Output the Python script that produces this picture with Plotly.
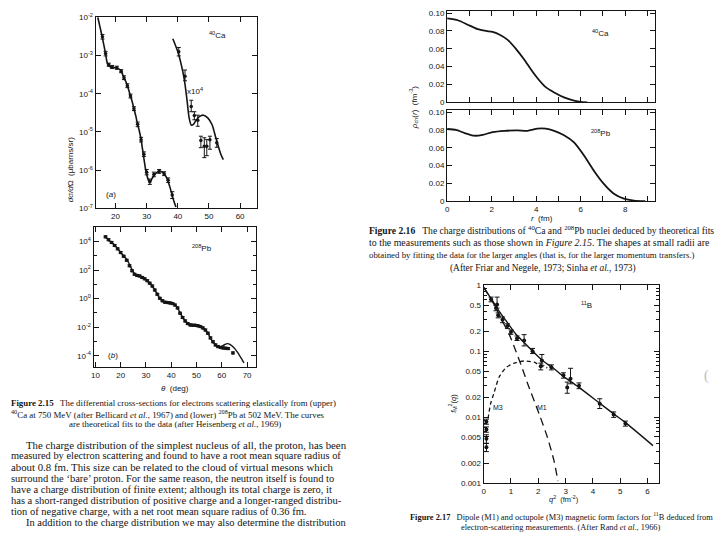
import plotly.graph_objects as go

W, H = 720, 540
INK = "#141414"
SANS = "Liberation Sans, Arial, sans-serif"
SERIF = "Liberation Serif, Times New Roman, serif"

# ---------------- Fig 2.15 (a): 40Ca cross-section (log10 exponents)
ca_fit_x = [14.3, 15.0, 15.7, 16.3, 16.8, 17.2, 17.6, 18.4, 19.2, 20.0, 21.0, 21.6, 22.2, 22.7, 23.3,
            23.8, 24.3, 24.8, 25.4, 25.9, 26.5, 27.0, 27.6, 28.1, 28.5, 28.9, 29.3, 29.7, 30.2,
            30.6, 31.1, 31.7, 32.4, 33.2, 34.0, 34.8, 35.6, 36.3, 36.9, 37.6, 38.3, 38.9, 39.4]
ca_fit_exp = [-2.0, -2.25, -2.51, -2.75, -2.96, -3.15, -3.25, -3.30, -3.31, -3.32, -3.35, -3.38, -3.48,
              -3.58, -3.68, -3.79, -3.92, -4.06, -4.22, -4.39, -4.58, -4.77, -4.96, -5.15, -5.36,
              -5.58, -5.80, -6.0, -6.17, -6.27, -6.31, -6.22, -6.13, -6.06, -6.02, -6.04, -6.09,
              -6.18, -6.30, -6.48, -6.69, -6.85, -6.96]
ca_pts_x = [15.8, 16.8, 17.8, 18.9, 20.4, 21.8, 22.7, 23.8, 24.8, 25.9, 27.1, 28.2, 29.1, 30.0,
            31.0, 32.3, 34.0, 35.6, 36.9, 38.2]
ca_pts_exp = [-2.51, -2.95, -3.24, -3.30, -3.32, -3.41, -3.58, -3.79, -4.06, -4.39, -4.80, -5.20,
              -5.58, -6.05, -6.30, -6.11, -6.03, -6.09, -6.26, -6.65]
ca_pts_err = [0.06, 0.06, 0.04, 0.04, 0.04, 0.04, 0.05, 0.05, 0.05, 0.05, 0.06, 0.06, 0.06, 0.07,
              0.07, 0.06, 0.05, 0.05, 0.06, 0.09]

# x10^4 branch
cax_fit_x = [38.4, 40.0, 41.1, 42.1, 43.0, 43.6, 44.3, 45.0, 45.8, 46.9, 48.2, 49.6, 51.0, 52.2,
             53.8, 54.6]
cax_fit_exp = [-2.56, -2.90, -3.24, -3.64, -4.20, -4.62, -4.82, -4.80, -4.70, -4.60, -4.56, -4.63,
               -4.81, -5.15, -5.58, -5.72]
cax_pts_x = [40.3, 42.3, 44.3, 45.3, 46.4, 47.4, 48.5, 49.3, 50.3, 52.5]
cax_pts_exp = [-2.90, -3.54, -4.33, -4.57, -4.69, -5.22, -5.37, -5.37, -5.20, -5.28]
cax_hi_exp = [-2.79, -3.38, -4.17, -4.47, -4.56, -5.11, -5.15, -5.20, -5.11, -5.17]
cax_lo_exp = [-3.01, -3.66, -4.47, -4.68, -4.85, -5.41, -5.67, -5.62, -5.45, -5.40]

# ---------------- Fig 2.15 (b): 208Pb cross-section
pb_fit_x = [13.8, 15.5, 17.4, 19.0, 20.6, 22.0, 23.0, 24.0, 25.0, 26.0, 27.0, 28.0, 29.2, 30.4, 31.4,
            32.3, 33.3, 34.3, 35.3, 36.3, 37.5, 38.8, 40.1, 41.1, 42.1, 43.0, 44.0, 45.0, 46.0, 47.3,
            48.3, 49.5, 50.7, 51.8, 52.8, 53.8, 54.8, 55.7, 56.7, 57.7, 58.7, 59.6, 60.6, 61.5, 62.3,
            63.2, 64.2, 65.2, 66.1, 67.1, 68.1, 68.8]
pb_fit_exp = [4.36, 4.05, 3.77, 3.46, 3.09, 2.82, 2.56, 2.20, 1.85, 1.66, 1.60, 1.56, 1.42, 1.27, 1.12,
              0.93, 0.66, 0.36, 0.06, -0.14, -0.25, -0.29, -0.32, -0.40, -0.55, -0.82, -1.16, -1.45,
              -1.66, -1.84, -1.86, -1.87, -1.92, -1.98, -2.08, -2.25, -2.52, -2.82, -3.07, -3.27,
              -3.36, -3.36, -3.28, -3.18, -3.15, -3.20, -3.34, -3.52, -3.73, -4.00, -4.30, -4.50]
pb_pts_x = [14.0, 15.2, 16.4, 17.6, 18.8, 20.0, 21.2, 22.4, 23.5, 24.5, 25.5, 26.5, 27.5, 28.5, 29.5,
            30.5, 31.5, 32.5, 33.5, 34.5, 35.5, 36.5, 37.5, 38.5, 39.5, 40.5, 41.5, 42.5, 43.5, 44.5,
            45.5, 46.5, 47.5, 48.5, 49.5, 50.5, 51.5, 52.5, 53.5, 54.5, 55.5, 56.5, 57.5, 58.5, 59.5,
            60.5, 61.5, 62.5, 64.4]
pb_pts_exp = [4.32, 4.12, 3.93, 3.72, 3.48, 3.22, 2.96, 2.68, 2.30, 1.95, 1.70, 1.62, 1.58, 1.48, 1.38,
              1.25, 1.08, 0.88, 0.60, 0.30, 0.02, -0.15, -0.25, -0.28, -0.30, -0.35, -0.45, -0.65,
              -1.02, -1.32, -1.56, -1.75, -1.84, -1.86, -1.87, -1.90, -1.96, -2.05, -2.20, -2.42,
              -2.75, -3.02, -3.24, -3.36, -3.42, -3.45, -3.47, -3.50, -3.80]

# ---------------- Fig 2.16: charge densities (fm^-3)
rho_ca_r = [0.0, 0.48, 0.93, 1.37, 1.75, 2.04, 2.34, 2.72, 3.09, 3.46, 3.76, 4.06, 4.43, 4.81, 5.25,
            5.70, 6.07, 6.30]
rho_ca = [0.094, 0.092, 0.087, 0.082, 0.080, 0.079, 0.076, 0.070, 0.060, 0.048, 0.037, 0.027, 0.017,
          0.011, 0.0055, 0.0018, 0.0003, 0.0]
rho_pb_r = [0.0, 0.40, 0.78, 1.22, 1.60, 2.04, 2.57, 3.16, 3.61, 4.06, 4.43, 4.81, 5.25, 5.70, 6.15,
            6.60, 7.04, 7.49, 7.94, 8.39, 8.90]
rho_pb = [0.081, 0.080, 0.0765, 0.0735, 0.0745, 0.0775, 0.0790, 0.0795, 0.0790, 0.0815, 0.0815, 0.0790,
          0.0740, 0.0660, 0.0513, 0.0340, 0.0194, 0.0084, 0.0029, 0.0007, 0.0]

# ---------------- Fig 2.17: 11B magnetic form factors
b_tot_q2 = [0.0, 0.27, 0.57, 0.87, 1.18, 1.48, 1.79, 2.15, 2.53, 2.94, 3.43, 4.22, 4.76, 5.25, 6.2]
b_tot = [0.93, 0.63, 0.40, 0.27, 0.18, 0.135, 0.10, 0.072, 0.056, 0.041, 0.0295, 0.0166, 0.0112,
         0.0079, 0.0037]
b_m1_q2 = [0.0, 0.39, 0.63, 0.94, 1.18, 1.42, 1.60, 2.03, 2.33, 2.58, 2.72]
b_m1 = [0.93, 0.50, 0.316, 0.178, 0.10, 0.054, 0.033, 0.0112, 0.0050, 0.00214, 0.00107]
b_m3_q2 = [0.16, 0.25, 0.38, 0.57, 0.81, 1.12, 1.48, 1.85, 2.08, 2.33]
b_m3 = [0.0095, 0.0158, 0.0234, 0.041, 0.056, 0.066, 0.071, 0.068, 0.060, 0.056]
b_pts_q2 = [0.27, 0.45, 0.49, 0.53, 0.69, 0.87, 1.0, 1.22, 1.48, 1.79, 2.09, 2.13, 2.48, 2.92, 3.06,
            3.18, 3.49, 4.25, 4.76, 5.19, 0.10, 0.10, 0.10, 0.10]
b_pts = [0.61, 0.45, 0.51, 0.35, 0.30, 0.24, 0.195, 0.156, 0.145, 0.10, 0.059, 0.072, 0.057, 0.043,
         0.028, 0.038, 0.030, 0.016, 0.011, 0.008, 0.0085, 0.0065, 0.0047, 0.0035]
b_hi = [0.66, 0.49, 0.66, 0.38, 0.33, 0.26, 0.21, 0.17, 0.178, 0.11, 0.066, 0.089, 0.062, 0.047,
        0.034, 0.055, 0.033, 0.019, 0.012, 0.0087, 0.0093, 0.0071, 0.0054, 0.0040]
b_lo = [0.56, 0.41, 0.45, 0.32, 0.27, 0.22, 0.18, 0.145, 0.12, 0.092, 0.052, 0.061, 0.052, 0.039,
        0.023, 0.032, 0.027, 0.0135, 0.0099, 0.0073, 0.0078, 0.0059, 0.0040, 0.0030]

fig = go.Figure()


def ex(v):
    return [10 ** e for e in v]


def line(x, y, xa, ya, width=1.5, dash="solid", shape="spline"):
    fig.add_trace(go.Scatter(x=x, y=y, mode="lines", xaxis=xa, yaxis=ya,
                             line=dict(color=INK, width=width, dash=dash, shape=shape,
                                       smoothing=0.6),
                             showlegend=False, hoverinfo="skip"))


def pts(x, y, hi, lo, xa, ya, size=3.5, cap=2):
    fig.add_trace(go.Scatter(
        x=x, y=y, mode="markers", xaxis=xa, yaxis=ya,
        marker=dict(color=INK, size=size),
        error_y=dict(type="data", symmetric=False,
                     array=[h - v for h, v in zip(hi, y)],
                     arrayminus=[v - l for v, l in zip(y, lo)],
                     color=INK, thickness=1, width=cap),
        showlegend=False, hoverinfo="skip"))


# panel a
line(ca_fit_x, ex(ca_fit_exp), "x", "y", 1.6)
cay = ex(ca_pts_exp)
pts(ca_pts_x, cay, [v * 10 ** d for v, d in zip(cay, ca_pts_err)],
    [v / 10 ** d for v, d in zip(cay, ca_pts_err)], "x", "y")
line(cax_fit_x, ex(cax_fit_exp), "x", "y", 1.6)
pts(cax_pts_x, ex(cax_pts_exp), ex(cax_hi_exp), ex(cax_lo_exp), "x", "y")

# panel b
line(pb_fit_x, ex(pb_fit_exp), "x2", "y2", 1.4)
pby = ex(pb_pts_exp)
pts(pb_pts_x, pby, [v * 10 ** 0.07 for v in pby], [v / 10 ** 0.07 for v in pby], "x2", "y2",
    size=3.5, cap=2)

# panels c, d
line(rho_ca_r, rho_ca, "x3", "y3", 1.8)
line(rho_pb_r, rho_pb, "x4", "y4", 1.8)

# panel e
line(b_tot_q2, b_tot, "x5", "y5", 1.4)
line(b_m1_q2, b_m1, "x5", "y5", 1.3, dash="8px,5px")
line(b_m3_q2, b_m3, "x5", "y5", 1.3, dash="4px,3px")
pts(b_pts_q2, b_pts, b_hi, b_lo, "x5", "y5", size=4, cap=2.5)


def axis(dom, rng, tickvals, ticktext=None, typ="linear", labels=True, anchor=None, minor=None):
    d = dict(domain=dom, range=rng, type=typ, anchor=anchor, tickmode="array",
             tickvals=tickvals, ticks="inside", ticklen=5, tickwidth=1, tickcolor=INK,
             showline=True, linecolor=INK, linewidth=1.2, mirror="allticks",
             showgrid=False, zeroline=False, showticklabels=labels,
             tickfont=dict(family=SANS, size=8, color=INK))
    if ticktext is not None:
        d["ticktext"] = ticktext
    if minor is not None:
        d["minor"] = dict(tickmode="array", tickvals=minor, ticks="inside", ticklen=3,
                          tickcolor=INK, tickwidth=1, showgrid=False)
    return d


def fx(p):
    return p / W


def fy(p):
    return 1 - p / H


ca_yt = [1e-2, 1e-3, 1e-4, 1e-5, 1e-6, 1e-7]
ca_yl = ["10<sup>-2</sup>", "10<sup>-3</sup>", "10<sup>-4</sup>", "10<sup>-5</sup>",
         "10<sup>-6</sup>", "10<sup>-7</sup>"]
pb_yt = [1e4, 1e2, 1, 1e-2, 1e-4]
pb_yl = ["10<sup>4</sup>", "10<sup>2</sup>", "10<sup>0</sup>", "10<sup>-2</sup>", "10<sup>-4</sup>"]
rho_t = [0, 0.02, 0.04, 0.06, 0.08, 0.10]
rho_l = ["0", "0.02", "0.04", "0.06", "0.08", "0.10"]
r_t = [0, 1, 2, 3, 4, 5, 6, 7, 8, 9]
r_l = ["0", " ", "2", " ", "4", " ", "6", " ", "8", " "]
f_t = [1, 0.5, 0.2, 0.1, 0.05, 0.02, 0.01, 0.005, 0.002, 0.001]
f_l = ["1", "0.5", "0.2", "0.1", "0.05", "0.02", "0.01", "0.005", "0.002", "0.001"]
f_minor = [m * 10 ** k for k in (-3, -2, -1) for m in (3, 4, 6, 7, 8, 9)]

fig.update_layout(
    width=W, height=H, margin=dict(l=0, r=0, t=0, b=0),
    paper_bgcolor="white", plot_bgcolor="rgba(0,0,0,0)",
    xaxis=axis([fx(93), fx(255)], [13.6, 65.4], [20, 30, 40, 50, 60], anchor="y"),
    yaxis=axis([fy(206.7), fy(11.5)], [-7, -2], ca_yt, ca_yl, typ="log", anchor="x"),
    xaxis2=axis([fx(91), fx(254)], [9.3, 73.5], [10, 20, 30, 40, 50, 60, 70], anchor="y2"),
    yaxis2=axis([fy(368.7), fy(225.3)], [-4.8, 5.03], pb_yt, pb_yl, typ="log", anchor="x2",
                minor=[1e3, 10, 0.1, 1e-3]),
    xaxis3=axis([fx(446), fx(655)], [0, 9.35], r_t, labels=False, anchor="y3"),
    yaxis3=axis([fy(98.3), fy(5)], [0, 0.1025], rho_t, rho_l, anchor="x3"),
    xaxis4=axis([fx(446), fx(655)], [0, 9.35], r_t, r_l, anchor="y4"),
    yaxis4=axis([fy(199.3), fy(106)], [0, 0.1025], rho_t, rho_l, anchor="x4"),
    xaxis5=axis([fx(482.7), fx(659)], [0, 6.43], [0, 1, 2, 3, 4, 5, 6], anchor="y5"),
    yaxis5=axis([fy(487), fy(285)], [-3, 0], f_t, f_l, typ="log", anchor="x5", minor=f_minor),
)


def txt(x, y, s, size=8, fam=SANS, anchor="center", angle=0, color=INK):
    fig.add_annotation(x=fx(x), y=fy(y), xref="paper", yref="paper", text=s, showarrow=False,
                       xanchor=anchor, yanchor="middle", textangle=angle, borderpad=0,
                       font=dict(family=fam, size=size, color=color))


# in-plot labels
txt(215, 30, "<sup>40</sup>Ca")
txt(193, 87, "x10<sup>4</sup>")
txt(108, 192, "(<i>a</i>)")
txt(68, 167, "<i>dσ/d</i>Ω  (μbarns/sr)", angle=-90)
txt(200, 247, "<sup>208</sup>Pb")
txt(110, 357, "(<i>b</i>)")
txt(173, 390, "<i>θ</i>  (deg)", size=8)
txt(600, 28, "<sup>40</sup>Ca")
txt(600, 130, "<sup>208</sup>Pb")
txt(541, 217, "<i>r</i>  (fm)")
txt(413, 103, "<i>ρ</i><sub>ch</sub>(<i>r</i>)  (fm<sup>-3</sup>)", angle=-90)
txt(586, 305, "<sup>11</sup>B")
txt(497, 410, "M3", size=7)
txt(541, 410, "M1", size=7)
txt(563, 503, "<i>q</i><sup>2</sup>  (fm<sup>-2</sup>)", size=7.5)
txt(452, 406, "<i>f</i><sub>M</sub><sup>2</sup>(<i>q</i>)", angle=-90, size=7.5)

# captions
txt(7, 405, "<b>Figure 2.15</b>   The differential cross-sections for electrons scattering elastically from (upper)",
    size=8.85, fam=SERIF, anchor="left")
txt(7, 416, "<sup>40</sup>Ca at 750 MeV (after Bellicard <i>et al.</i>, 1967) and (lower) <sup>208</sup>Pb at 502 MeV. The curves",
    size=8.9, fam=SERIF, anchor="left")
txt(173, 427, "are theoretical fits to the data (after Heisenberg <i>et al.</i>, 1969)", size=8.9,
    fam=SERIF)

cap16 = [("<b>Figure 2.16</b>   The charge distributions of <sup>40</sup>Ca and <sup>208</sup>Pb nuclei deduced by theoretical fits", 9.6),
         ("to the measurements such as those shown in <i>Figure 2.15</i>. The shapes at small radii are", 9.9),
         ("obtained by fitting the data for the larger angles (that is, for the larger momentum transfers.)", 8.85)]
for i, (s, sz) in enumerate(cap16):
    txt(367, 229 + 12.8 * i, s, size=sz, fam=SERIF, anchor="left")
txt(542, 267.5, "(After Friar and Negele, 1973; Sinha <i>et al.</i>, 1973)", size=9.4, fam=SERIF)

txt(408, 521, "<b>Figure 2.17</b>   Dipole (M1) and octupole (M3) magnetic form factors for <sup>11</sup>B deduced from",
    size=8.4, fam=SERIF, anchor="left")
txt(560, 532, "electron-scattering measurements. (After Rand <i>et al.</i>, 1966)", size=8.4, fam=SERIF)

body = [
    (22, "The charge distribution of the simplest nucleus of all, the proton, has been", 10.8),
    (7, "measured by electron scattering and found to have a root mean square radius of", 10.4),
    (7, "about 0.8 fm. This size can be related to the cloud of virtual mesons which", 10.8),
    (7, "surround the ‘bare’ proton. For the same reason, the neutron itself is found to", 10.5),
    (7, "have a charge distribution of finite extent; although its total charge is zero, it", 10.5),
    (7, "has a short-ranged distribution of positive charge and a longer-ranged distribu-", 10.5),
    (7, "tion of negative charge, with a net root mean square radius of 0.36 fm.", 10.5),
    (22, "In addition to the charge distribution we may also determine the distribution", 10.5),
]
for i, (x0, s, sz) in enumerate(body):
    txt(x0, 447.7 + 11.4 * i, s, size=sz, fam=SERIF, anchor="left")

txt(706, 378, "(", size=14, fam=SERIF, color="#bbbbbb")

fig.write_html("out.html", config={"displayModeBar": False},
               post_script="document.body.style.margin='0';document.body.style.overflow='hidden';")
